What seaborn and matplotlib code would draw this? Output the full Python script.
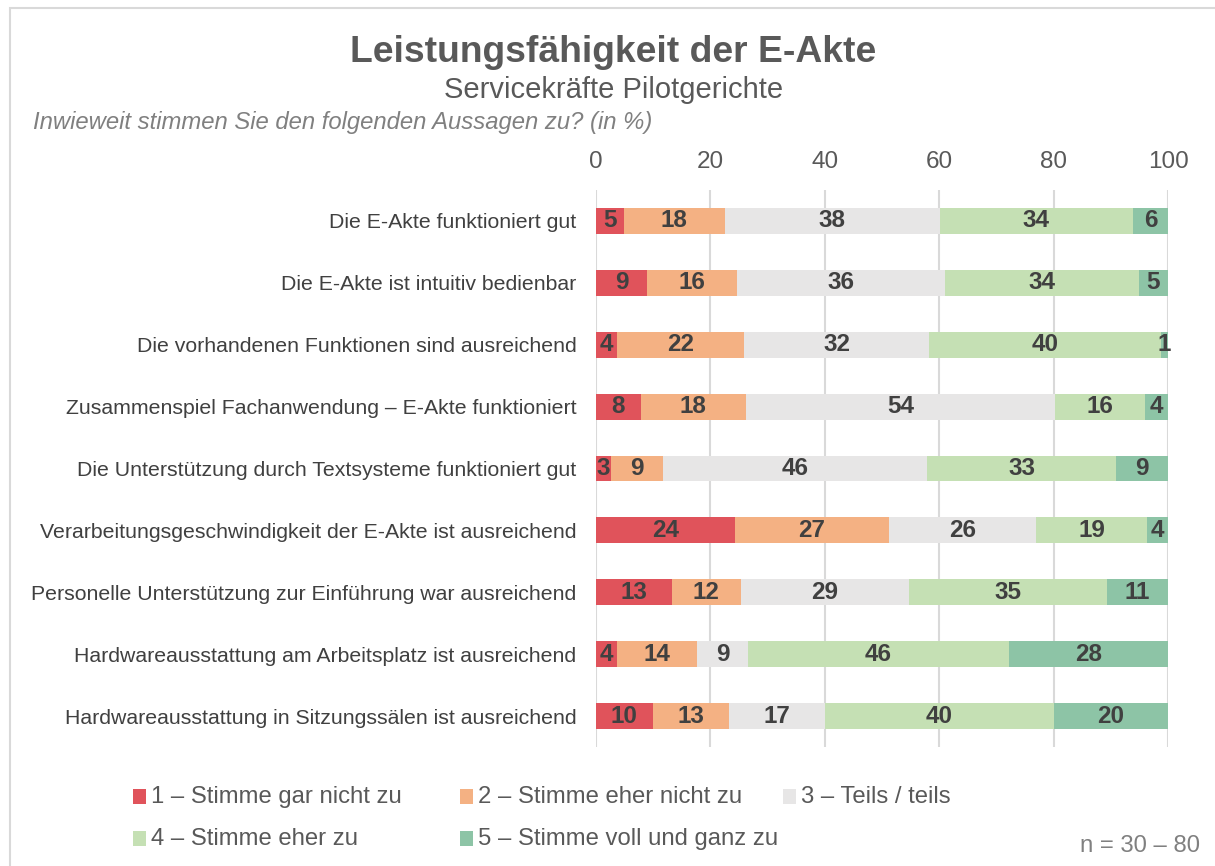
import numpy as np
import pandas as pd
import seaborn as sns
import matplotlib.pyplot as plt
from matplotlib.patches import Rectangle

# Daten (Anteile in %)
aussagen = [
    "Die E-Akte funktioniert gut",
    "Die E-Akte ist intuitiv bedienbar",
    "Die vorhandenen Funktionen sind ausreichend",
    "Zusammenspiel Fachanwendung – E-Akte funktioniert",
    "Die Unterstützung durch Textsysteme funktioniert gut",
    "Verarbeitungsgeschwindigkeit der E-Akte ist ausreichend",
    "Personelle Unterstützung zur Einführung war ausreichend",
    "Hardwareausstattung am Arbeitsplatz ist ausreichend",
    "Hardwareausstattung in Sitzungssälen ist ausreichend",
]
kategorien = [
    "1 – Stimme gar nicht zu",
    "2 – Stimme eher nicht zu",
    "3 – Teils / teils",
    "4 – Stimme eher zu",
    "5 – Stimme voll und ganz zu",
]
stimme_gar_nicht = [4.9, 9.0, 3.7, 7.8, 2.6, 24.3, 13.3, 3.7, 9.9]
stimme_eher_nicht = [17.6, 15.7, 22.2, 18.4, 9.2, 26.9, 12.0, 14.0, 13.4]
teils_teils = [37.6, 36.4, 32.4, 54.0, 46.1, 25.8, 29.4, 8.9, 16.7]
stimme_eher = [33.8, 33.8, 40.4, 15.8, 33.0, 19.3, 34.7, 45.6, 40.1]
stimme_voll = [6.1, 5.1, 1.3, 4.0, 9.1, 3.7, 10.6, 27.8, 19.9]

farben = ["#E0535B", "#F4B183", "#E7E6E6", "#C5E0B4", "#8DC4A6"]

werte = [stimme_gar_nicht, stimme_eher_nicht, teils_teils, stimme_eher, stimme_voll]

sns.set_theme(style="white")
plt.rcParams['font.family'] = ['Liberation Sans', 'DejaVu Sans']

fig = plt.figure(figsize=(12.15, 8.66), dpi=100)
ax = fig.add_axes([596 / 1215, 1 - 747 / 866, 572 / 1215, 557 / 866])

# gestapelte Balken: kumulierte Summen von hinten nach vorne zeichnen
df = pd.DataFrame({"aussage": aussagen})
kumuliert = np.cumsum(np.array(werte), axis=0)
for i in reversed(range(len(kategorien))):
    df["wert"] = kumuliert[i]
    sns.barplot(data=df, x="wert", y="aussage", color=farben[i], width=0.42,
                errorbar=None, linewidth=0, saturation=1, ax=ax)

# Beschriftung in der Mitte jedes Segments
for i in range(len(kategorien)):
    for j, v in enumerate(werte[i]):
        ax.text(kumuliert[i][j] - v / 2, j, f"{v:.0f}", ha="center", va="center",
                fontsize=17.5, fontweight="bold", color="#404040")

ax.set_xlim(0, 100)
ax.set_xticks(range(0, 101, 20))
ax.xaxis.tick_top()
ax.grid(axis="x", color="#D9D9D9", linewidth=1.5)
ax.set_axisbelow(True)
for s in ax.spines.values():
    s.set_visible(False)
ax.tick_params(axis="x", length=0, labelsize=17.5, labelcolor="#595959", pad=12)
ax.tick_params(axis="y", length=0, labelsize=15.3, labelcolor="#404040", pad=14)
ax.set_xlabel("")
ax.set_ylabel("")

# Titel
fig.text(0.505, 1 - 52 / 866, "Leistungsfähigkeit der E-Akte", ha="center", va="center",
         fontsize=26.8, fontweight="bold", color="#595959")
fig.text(0.505, 1 - 90 / 866, "Servicekräfte Pilotgerichte", ha="center", va="center",
         fontsize=21, color="#595959")
fig.text(33 / 1215, 1 - 122 / 866, "Inwieweit stimmen Sie den folgenden Aussagen zu? (in %)",
         ha="left", va="center", fontsize=17.2, style="italic", color="#808080")

# Legende von Hand (Excel-Stil, zeilenweise)
leg_pos = [(133, 797), (460, 797), (783, 797), (133, 839), (460, 839)]
for (px, py), lab, col in zip(leg_pos, kategorien, farben):
    fig.add_artist(Rectangle((px / 1215, 1 - (py + 7) / 866), 13 / 1215, 15 / 866,
                             transform=fig.transFigure, color=col, lw=0))
    fig.text((px + 18) / 1215, 1 - py / 866, lab, ha="left", va="center",
             fontsize=17.2, color="#595959")

fig.text(1200 / 1215, 1 - 846 / 866, "n = 30 – 80", ha="right", va="center",
         fontsize=17.2, color="#808080")

# Rahmen
fig.add_artist(Rectangle((10 / 1215, -0.05), 1.2, 1.05 - 8 / 866, transform=fig.transFigure,
                         fill=False, edgecolor="#D9D9D9", linewidth=1.5))

plt.savefig("out.png", dpi=100)
